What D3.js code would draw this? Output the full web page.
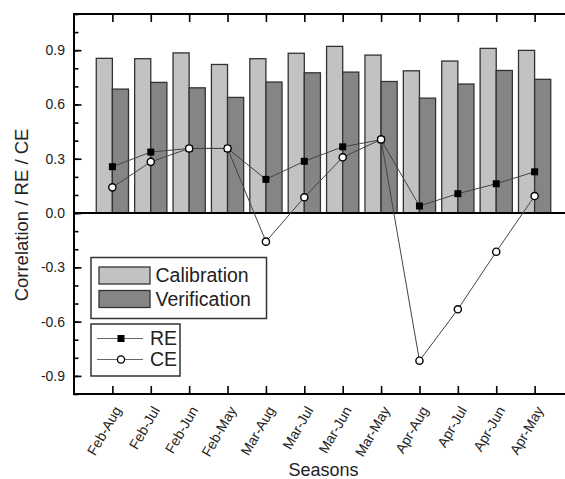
<!DOCTYPE html>
<html>
<head>
<meta charset="utf-8">
<script src="https://cdn.jsdelivr.net/npm/d3@7"></script>
<style>
  body { margin: 0; background: #fff; }
  svg { display: block; font-family: "Liberation Sans", Arial, sans-serif; }
</style>
</head>
<body>
<script>
// Data
const seasons = ['Feb-Aug', 'Feb-Jul', 'Feb-Jun', 'Feb-May', 'Mar-Aug', 'Mar-Jul',
                 'Mar-Jun', 'Mar-May', 'Apr-Aug', 'Apr-Jul', 'Apr-Jun', 'Apr-May'];
const calibration  = [0.855, 0.853, 0.885, 0.821, 0.853, 0.883, 0.921, 0.873, 0.786, 0.840, 0.910, 0.899];
const verification = [0.685, 0.722, 0.692, 0.639, 0.724, 0.775, 0.779, 0.727, 0.635, 0.713, 0.788, 0.739];
const re = [0.256, 0.337, 0.357, 0.357, 0.186, 0.286, 0.366, 0.405, 0.039, 0.107, 0.162, 0.228];
const ce = [0.142, 0.283, 0.357, 0.357, -0.158, 0.087, 0.308, 0.407, -0.816, -0.532, -0.214, 0.094];
const yTicks = [-0.9, -0.6, -0.3, 0.0, 0.3, 0.6, 0.9];
const yMinor = d3.range(-10, 12).map(d => d / 10);

const width = 565;
const height = 479;
const margin = { top: 14, right: -8, bottom: 85, left: 74 };

const lightGray = '#c2c2c2';
const darkGray = '#858585';

const svg = d3.select('body')
    .append('svg')
    .attr('width', width)
    .attr('height', height);

// Scales
const x = d3.scalePoint()
    .domain(seasons)
    .range([margin.left, width - margin.right])
    .padding(1);

const y = d3.scaleLinear()
    .domain([-1.0, 1.1])
    .range([height - margin.bottom, margin.top]);

const barW = x.step() * 0.42;

// Bars
const bars = svg.append('g').attr('stroke', '#333').attr('stroke-width', 1.3);

bars.selectAll('rect.cal')
    .data(calibration)
    .enter().append('rect')
    .attr('class', 'cal')
    .attr('x', (d, i) => x(seasons[i]) - barW)
    .attr('y', d => y(d))
    .attr('width', barW)
    .attr('height', d => y(0) - y(d))
    .attr('fill', lightGray);

bars.selectAll('rect.ver')
    .data(verification)
    .enter().append('rect')
    .attr('class', 'ver')
    .attr('x', (d, i) => x(seasons[i]))
    .attr('y', d => y(d))
    .attr('width', barW)
    .attr('height', d => y(0) - y(d))
    .attr('fill', darkGray);

// Zero line
svg.append('line')
    .attr('x1', margin.left).attr('x2', width - margin.right)
    .attr('y1', y(0)).attr('y2', y(0))
    .attr('stroke', '#000')
    .attr('stroke-width', 2);

// Lines
const line = d3.line()
    .x((d, i) => x(seasons[i]))
    .y(d => y(d));

[re, ce].forEach(series => {
    svg.append('path')
        .datum(series)
        .attr('d', line)
        .attr('fill', 'none')
        .attr('stroke', '#444')
        .attr('stroke-width', 1);
});

// RE markers
svg.selectAll('rect.re')
    .data(re)
    .enter().append('rect')
    .attr('class', 're')
    .attr('x', (d, i) => x(seasons[i]) - 3.5)
    .attr('y', d => y(d) - 3.5)
    .attr('width', 7)
    .attr('height', 7)
    .attr('fill', '#000');

// CE markers
svg.selectAll('circle.ce')
    .data(ce)
    .enter().append('circle')
    .attr('class', 'ce')
    .attr('cx', (d, i) => x(seasons[i]))
    .attr('cy', d => y(d))
    .attr('r', 3.6)
    .attr('fill', '#fff')
    .attr('stroke', '#000')
    .attr('stroke-width', 1.4);

// Axes (ticks point inward)
const axisLeftMinor = svg.append('g')
    .attr('transform', `translate(${margin.left},0)`)
    .call(d3.axisLeft(y).tickValues(yMinor).tickSize(-4.5).tickFormat(''));
axisLeftMinor.select('.domain').remove();
axisLeftMinor.selectAll('line').attr('stroke', '#000').attr('stroke-width', 1.6);

const axisLeft = svg.append('g')
    .attr('transform', `translate(${margin.left},0)`)
    .call(d3.axisLeft(y).tickValues(yTicks).tickSize(-7.5).tickPadding(9)
        .tickFormat(d => d3.format('.1f')(d).replace('−', '-')));
axisLeft.select('.domain').remove();
axisLeft.selectAll('line').attr('stroke', '#000').attr('stroke-width', 1.6);
axisLeft.selectAll('text').attr('font-size', 14).attr('fill', '#222');

const axisBottom = svg.append('g')
    .attr('transform', `translate(0,${y.range()[0]})`)
    .call(d3.axisBottom(x).tickSize(-8));
axisBottom.select('.domain').remove();
axisBottom.selectAll('line').attr('stroke', '#000').attr('stroke-width', 1.6);
axisBottom.selectAll('text')
    .attr('font-size', 14)
    .attr('fill', '#222')
    .attr('text-anchor', 'end')
    .attr('x', 0)
    .attr('y', 0)
    .attr('dy', 0)
    .attr('transform', 'translate(9,16) rotate(-60)');

const axisTop = svg.append('g')
    .attr('transform', `translate(0,${margin.top})`)
    .call(d3.axisTop(x).tickSize(-8).tickFormat(''));
axisTop.select('.domain').remove();
axisTop.selectAll('line').attr('stroke', '#000').attr('stroke-width', 1.6);

// Frame
svg.append('rect')
    .attr('x', margin.left)
    .attr('y', margin.top)
    .attr('width', width - margin.right - margin.left)
    .attr('height', y.range()[0] - margin.top)
    .attr('fill', 'none')
    .attr('stroke', '#000')
    .attr('stroke-width', 2);

// Axis titles
svg.append('text')
    .attr('x', (margin.left + width - margin.right) / 2)
    .attr('y', 476)
    .attr('text-anchor', 'middle')
    .attr('font-size', 18)
    .attr('fill', '#222')
    .text('Seasons');

svg.append('text')
    .attr('transform', 'translate(28,215) rotate(-90)')
    .attr('text-anchor', 'middle')
    .attr('font-size', 18.5)
    .attr('fill', '#222')
    .text('Correlation / RE / CE');

// Legend: bars
const barLegend = [
    { name: 'Calibration', color: lightGray },
    { name: 'Verification', color: darkGray }
];
const lg1 = svg.append('g');
lg1.append('rect')
    .attr('x', 91).attr('y', 257.5).attr('width', 175.5).attr('height', 61)
    .attr('fill', '#fff').attr('stroke', '#333').attr('stroke-width', 1.5);
barLegend.forEach((d, i) => {
    lg1.append('rect')
        .attr('x', 99).attr('y', 267 + i * 23.5).attr('width', 51).attr('height', 17)
        .attr('fill', d.color).attr('stroke', '#333').attr('stroke-width', 1.3);
    lg1.append('text')
        .attr('x', 155.5).attr('y', 282 + i * 24)
        .attr('font-size', 19.5).attr('fill', '#222')
        .text(d.name);
});

// Legend: lines
const lineLegend = [
    { name: 'RE', marker: 'square' },
    { name: 'CE', marker: 'circle' }
];
const lg2 = svg.append('g');
lg2.append('rect')
    .attr('x', 91).attr('y', 324).attr('width', 89).attr('height', 52)
    .attr('fill', '#fff').attr('stroke', '#333').attr('stroke-width', 1.5);
lineLegend.forEach((d, i) => {
    const ly = 338.5 + i * 21;
    lg2.append('line')
        .attr('x1', 97).attr('x2', 143).attr('y1', ly).attr('y2', ly)
        .attr('stroke', '#666').attr('stroke-width', 1);
    if (d.marker === 'square') {
        lg2.append('rect')
            .attr('x', 121 - 3.5).attr('y', ly - 3.5).attr('width', 7).attr('height', 7)
            .attr('fill', '#000');
    } else {
        lg2.append('circle')
            .attr('cx', 121).attr('cy', ly).attr('r', 3.6)
            .attr('fill', '#fff').attr('stroke', '#000').attr('stroke-width', 1.4);
    }
    lg2.append('text')
        .attr('x', 150).attr('y', ly + 6.5)
        .attr('font-size', 19.5).attr('fill', '#222')
        .text(d.name);
});
</script>
</body>
</html>
